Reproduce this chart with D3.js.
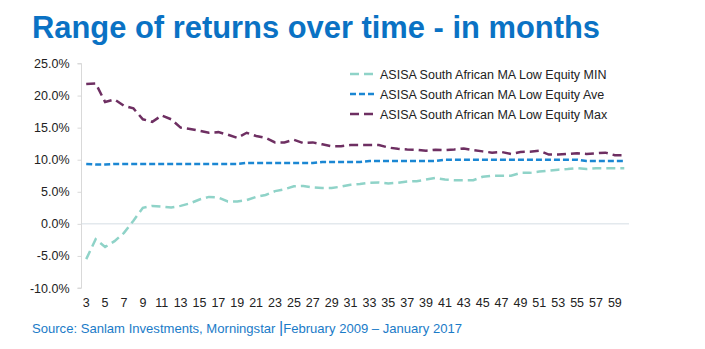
<!DOCTYPE html>
<html><head><meta charset="utf-8">
<script src="https://cdn.jsdelivr.net/npm/d3@7"></script>
<style>
html,body{margin:0;padding:0;background:#fff;}
svg{display:block;font-family:"Liberation Sans",Arial,sans-serif;}
</style></head>
<body><svg id="c" width="705" height="349"></svg>
<script>
const months = d3.range(3, 61);
const xTickLabels = d3.range(3, 60, 2);
const yTicks = [-10, -5, 0, 5, 10, 15, 20, 25];
const seriesNames = ["ASISA South African MA Low Equity MIN", "ASISA South African MA Low Equity Ave", "ASISA South African MA Low Equity Max"];
const minVals = [-5.5,-2.4,-3.6,-2.7,-1.4,0.5,2.5,2.8,2.7,2.55,2.8,3.2,3.8,4.2,4.1,3.5,3.5,3.7,4.2,4.5,5.1,5.4,5.85,5.9,5.7,5.6,5.6,5.8,6.1,6.2,6.4,6.45,6.3,6.4,6.6,6.65,6.9,7.15,6.9,6.8,6.8,6.8,7.35,7.5,7.5,7.5,7.95,7.95,8.15,8.3,8.45,8.55,8.7,8.55,8.65,8.65,8.65,8.65];
const aveVals = [9.35,9.25,9.25,9.35,9.35,9.35,9.35,9.35,9.35,9.35,9.35,9.35,9.35,9.35,9.35,9.35,9.35,9.5,9.5,9.5,9.5,9.5,9.5,9.5,9.5,9.65,9.65,9.65,9.65,9.65,9.8,9.8,9.8,9.8,9.8,9.8,9.8,9.8,10,10,10,10,10,10,10,10,10,10,10,10,10,10,10,9.8,9.8,9.8,9.8,9.8];
const maxVals = [21.8,21.9,19.0,19.4,18.4,18.0,16.3,15.9,16.9,16.3,15.0,14.8,14.5,14.2,14.3,13.9,13.4,14.2,13.7,13.4,12.7,12.7,13.1,12.6,12.7,12.4,12.1,12.1,12.3,12.3,12.3,12.3,11.9,11.7,11.6,11.55,11.4,11.55,11.5,11.6,11.75,11.5,11.3,11.1,11.2,10.9,11.2,11.25,11.4,10.8,10.8,10.9,11.0,10.9,11.0,11.1,10.7,10.7];

const svg = d3.select("#c");
const x = d3.scaleBand().domain(months).range([81.5, 629]);
const y = d3.scaleLinear().domain([-10, 25]).range([288, 63.5]);
const cx = m => x(m) + x.bandwidth() / 2;

// title
svg.append("text").attr("x", 32).attr("y", 38)
  .attr("fill", "#0a72c4").attr("font-weight", "bold").attr("font-size", 31)
  .attr("textLength", 568).attr("lengthAdjust", "spacingAndGlyphs")
  .text("Range of returns over time - in months");

// y axis
const yAxis = d3.axisLeft(y).tickValues(yTicks).tickSize(4).tickPadding(8)
  .tickFormat(d => d.toFixed(1) + "%");
const gy = svg.append("g").attr("transform", "translate(81.5,0)").call(yAxis);
gy.select(".domain").attr("stroke", "#d9d9d9").attr("d", `M-4,${y(25)}H0V${y(-10)}H-4`);
gy.selectAll(".tick line").attr("stroke", "#d9d9d9");
gy.selectAll(".tick text").attr("fill", "#222").attr("font-size", 12.5)
  .attr("font-family", "Liberation Sans, Arial, sans-serif");

// zero line
svg.append("line").attr("x1", 81.5).attr("x2", 629).attr("y1", y(0)).attr("y2", y(0))
  .attr("stroke", "#d5dde4").attr("stroke-width", 1);

// x labels
svg.append("g").selectAll("text").data(xTickLabels).join("text")
  .attr("x", d => cx(d)).attr("y", 306.5).attr("text-anchor", "middle")
  .attr("fill", "#222").attr("font-size", 12.5).text(d => d);

// lines
const series = [
  {name: seriesNames[0], vals: minVals, color: "#8fd3c8", dash: "9,5"},
  {name: seriesNames[1], vals: aveVals, color: "#1b87d3", dash: "6,3"},
  {name: seriesNames[2], vals: maxVals, color: "#6e2f62", dash: "9,5"}
];
const line = d3.line().x((d, i) => cx(months[i])).y(d => y(d));
series.forEach(s => {
  svg.append("path").datum(s.vals).attr("d", line).attr("fill", "none")
    .attr("stroke", s.color).attr("stroke-width", 2.5).attr("stroke-dasharray", s.dash);
});

// legend
const lg = svg.append("g");
series.forEach((s, i) => {
  const yy = 74 + i * 20;
  lg.append("line").attr("x1", 350).attr("x2", 374).attr("y1", yy).attr("y2", yy)
    .attr("stroke", s.color).attr("stroke-width", 2.5).attr("stroke-dasharray", i === 1 ? "6,3" : "9,5");
  lg.append("text").attr("x", 380).attr("y", yy + 4.5).attr("fill", "#222")
    .attr("font-size", 12.5).text(s.name);
});

// source
const src = svg.append("text").attr("x", 32).attr("y", 333).attr("fill", "#1a7bc8").attr("font-size", 13)
  .attr("textLength", 430).attr("lengthAdjust", "spacingAndGlyphs");
src.append("tspan").text("Source: Sanlam Investments, Morningstar ");
src.append("tspan").attr("font-size", 16).text("|");
src.append("tspan").text("February 2009 – January 2017");
</script></body></html>
